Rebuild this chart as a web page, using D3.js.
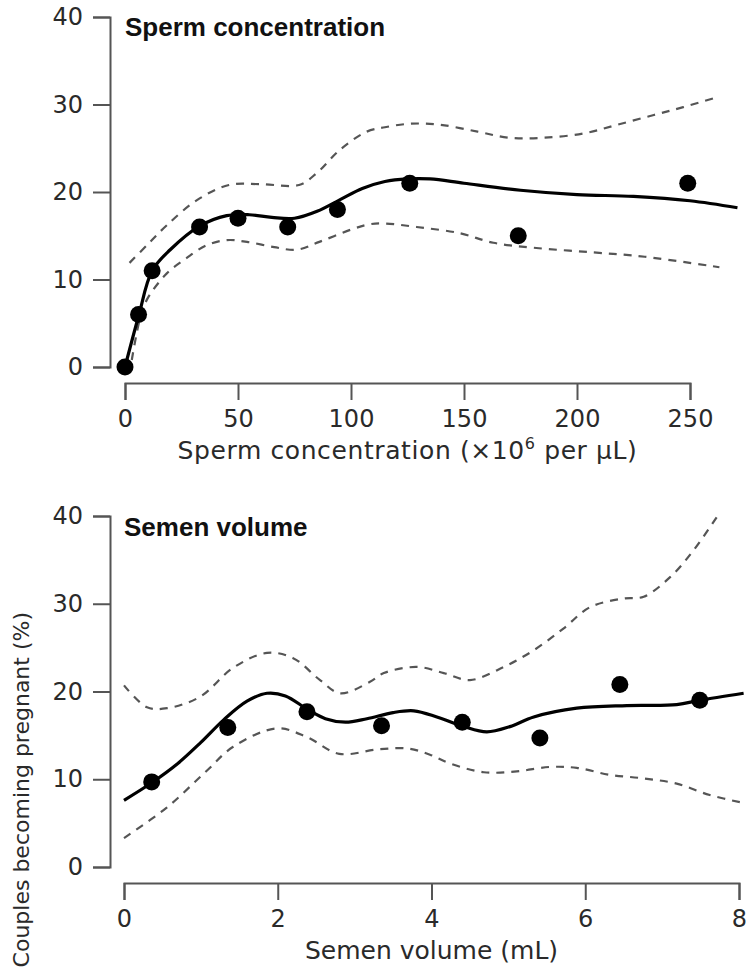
<!DOCTYPE html>
<html>
<head>
<meta charset="utf-8">
<script src="https://cdn.jsdelivr.net/npm/d3@7"></script>
<style>
  body { margin: 0; background: #fff; }
  svg { display: block; }
</style>
</head>
<body>
<svg id="chart" width="754" height="976"></svg>
<script>
// ---------- DATA ----------
const yTicks = [0, 10, 20, 30, 40];

// Panel A: sperm concentration
const concTicks = [0, 50, 100, 150, 200, 250];
const concPoints = [[0, 0], [6, 6], [12, 11], [33, 16], [50, 17], [72, 16], [94, 18], [126, 21], [174, 15], [249, 21]];
const concFit = [[0, 0], [6, 5.8], [12, 11], [20, 13.4], [33, 16.1], [45, 17.3], [55, 17.4], [65, 17.1], [75, 17.0], [85, 17.8], [95, 19.1], [105, 20.4], [115, 21.2], [125, 21.5], [135, 21.5], [150, 21.0], [175, 20.2], [200, 19.7], [225, 19.5], [250, 19.0], [271, 18.2]];
const concUpper = [[2, 11.9], [10, 14.0], [18.5, 16.2], [32, 19.1], [46, 20.8], [60, 20.9], [77, 20.8], [85, 22.2], [95, 24.8], [107, 26.9], [115, 27.4], [126, 27.8], [139, 27.7], [156, 26.9], [170, 26.2], [185, 26.2], [203, 26.7], [218, 27.7], [234, 28.8], [247, 29.7], [263, 30.9]];
const concLower = [[3, 0.8], [6.6, 5.5], [9.7, 7.7], [18.5, 10.7], [27, 12.4], [36, 13.9], [45, 14.5], [54, 14.3], [66, 13.7], [76, 13.4], [86, 14.3], [100, 15.7], [108, 16.3], [115, 16.4], [129, 16.0], [148, 15.3], [163, 14.2], [182, 13.6], [207, 13.1], [230, 12.6], [263, 11.4]];

// Panel B: semen volume
const volTicks = [0, 2, 4, 6, 8];
const volPoints = [[0.36, 9.7], [1.35, 15.9], [2.38, 17.7], [3.35, 16.1], [4.4, 16.5], [5.41, 14.7], [6.45, 20.8], [7.49, 19.0]];
const volFit = [[0, 7.6], [0.36, 9.6], [0.7, 11.8], [1.0, 14.2], [1.3, 16.8], [1.6, 18.9], [1.86, 19.8], [2.1, 19.5], [2.38, 18.0], [2.62, 16.9], [2.88, 16.5], [3.16, 16.9], [3.5, 17.6], [3.77, 17.8], [4.07, 17.1], [4.42, 16.0], [4.72, 15.4], [5.02, 16.0], [5.33, 17.1], [5.89, 18.1], [6.54, 18.4], [7.19, 18.5], [7.49, 19.0], [8.06, 19.8]];
const volUpper = [[0, 20.7], [0.3, 18.2], [0.56, 18.1], [0.99, 19.4], [1.42, 22.7], [1.86, 24.4], [2.2, 23.8], [2.55, 21.3], [2.81, 19.8], [3.2, 21.1], [3.38, 22.1], [3.81, 22.8], [4.16, 22.1], [4.5, 21.3], [4.94, 22.8], [5.33, 24.7], [5.72, 27.2], [6.06, 29.6], [6.5, 30.6], [6.76, 30.8], [7.1, 33.0], [7.41, 36.1], [7.75, 40.4]];
const volLower = [[0, 3.3], [0.56, 6.8], [1.08, 11.0], [1.42, 13.7], [1.99, 15.8], [2.38, 14.8], [2.8, 12.9], [3.3, 13.4], [3.7, 13.5], [3.98, 12.8], [4.24, 11.8], [4.68, 10.8], [5.11, 10.9], [5.54, 11.4], [5.89, 11.3], [6.32, 10.5], [6.76, 10.1], [7.19, 9.5], [7.62, 8.2], [8.06, 7.3]];

// ---------- DRAW ----------
const svg = d3.select("#chart");
const tickFont = "DejaVu Sans, sans-serif";
const axisColor = "#555";

function panel(cfg) {
  const x = d3.scaleLinear().domain(cfg.xDomain).range(cfg.xRange);
  const y = d3.scaleLinear().domain([0, 40]).range(cfg.yRange);
  const g = svg.append("g");

  const ya = g.append("g").attr("transform", `translate(${cfg.yAxisX},0)`)
    .call(d3.axisLeft(y).tickValues(yTicks).tickSize(17).tickSizeOuter(17).tickPadding(10));
  const xa = g.append("g").attr("transform", `translate(0,${cfg.xAxisY})`)
    .call(d3.axisBottom(x).tickValues(cfg.xTicks).tickSize(17).tickSizeOuter(17).tickPadding(10));
  [ya, xa].forEach(a => {
    a.select(".domain").attr("stroke", axisColor).attr("stroke-width", 2);
    a.selectAll(".tick line").attr("stroke", axisColor).attr("stroke-width", 2);
    a.selectAll(".tick text").attr("fill", "#2a2a2a")
      .style("font-family", tickFont).style("font-size", "24px");
  });

  const line = d3.line().x(d => x(d[0])).y(d => y(d[1])).curve(d3.curveCatmullRom.alpha(0.5));

  [cfg.upper, cfg.lower].forEach(arr => {
    g.append("path").attr("d", line(arr)).attr("fill", "none")
      .attr("stroke", "#555").attr("stroke-width", 2.2).attr("stroke-dasharray", "8,7");
  });
  g.append("path").attr("d", line(cfg.fit)).attr("fill", "none")
    .attr("stroke", "#000").attr("stroke-width", 3.2);

  g.selectAll("circle.pt").data(cfg.points).enter().append("circle")
    .attr("class", "pt").attr("cx", d => x(d[0])).attr("cy", d => y(d[1]))
    .attr("r", 8.5).attr("fill", "#000");

  g.append("text").attr("x", cfg.xRange[0]).attr("y", cfg.titleY)
    .style("font-family", "Liberation Sans, Arial, sans-serif")
    .style("font-weight", "bold").style("font-size", "26px").attr("fill", "#111")
    .text(cfg.title);

  const lab = g.append("text")
    .attr("x", (cfg.xRange[0] + cfg.xRange[1]) / 2).attr("y", cfg.xLabelY)
    .attr("text-anchor", "middle")
    .style("font-family", tickFont).style("font-size", "25px")
    .style("letter-spacing", cfg.xLabelSpacing).attr("fill", "#2a2a2a");
  cfg.xLabel(lab);
}

panel({
  xDomain: [0, 250], xRange: [125, 690], yRange: [367, 17],
  yAxisX: 110, xAxisY: 383, xTicks: concTicks,
  points: concPoints, fit: concFit, upper: concUpper, lower: concLower,
  title: "Sperm concentration", titleY: 36, xLabelY: 459, xLabelSpacing: "0.6px",
  xLabel: t => {
    t.append("tspan").text("Sperm concentration (\u00D710");
    t.append("tspan").attr("dy", -10).style("font-size", "16px").text("6");
    t.append("tspan").attr("dy", 10).text(" per \u03BCL)");
  }
});

panel({
  xDomain: [0, 8], xRange: [124, 739], yRange: [867, 516],
  yAxisX: 110, xAxisY: 883, xTicks: volTicks,
  points: volPoints, fit: volFit, upper: volUpper, lower: volLower,
  title: "Semen volume", titleY: 536, xLabelY: 959, xLabelSpacing: "0px",
  xLabel: t => t.text("Semen volume (mL)")
});

// shared y-axis label
svg.append("text")
  .attr("transform", "translate(29,612) rotate(-90)")
  .attr("text-anchor", "end")
  .style("font-family", tickFont).style("font-size", "22px").attr("fill", "#2a2a2a")
  .text("Couples becoming pregnant (%)");
</script>
</body>
</html>
